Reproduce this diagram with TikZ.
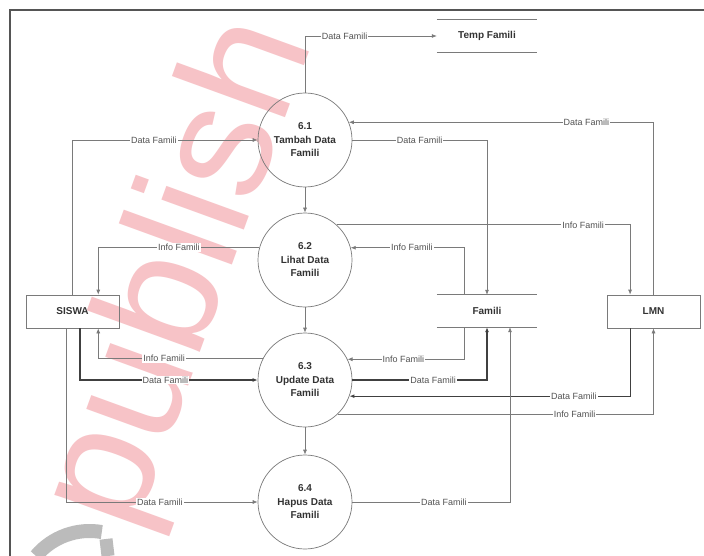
\documentclass[tikz,border=0pt]{standalone}
\usepackage{fontspec}
\setmainfont{Liberation Sans}
\usetikzlibrary{arrows.meta,calc}
\definecolor{ln}{HTML}{7A7A7A}
\definecolor{lnd}{HTML}{404040}
\definecolor{tx}{HTML}{333333}
\definecolor{wm}{HTML}{F7C3C7}
\definecolor{logo}{HTML}{BBBBBB}
\definecolor{frame}{HTML}{555555}
\begin{document}
\begin{tikzpicture}[x=1pt,y=-1pt,
  proc/.style={circle,draw=ln,line width=0.7pt,minimum size=94pt,inner sep=0pt,align=center,
    font=\fontsize{10}{13.5}\selectfont\bfseries,text=tx},
  ent/.style={rectangle,draw=ln,line width=0.7pt,minimum width=93pt,minimum height=33pt,inner sep=0pt,
    font=\fontsize{10}{12}\selectfont\bfseries,text=tx},
  store/.style={rectangle,minimum width=100pt,minimum height=32pt,inner sep=0pt,
    font=\fontsize{10}{12}\selectfont\bfseries,text=tx},
  flow/.style={draw=ln,line width=0.7pt,-{Latex[length=5pt,width=4pt]}},
  flowd/.style={flow,draw=lnd,line width=1.1pt},
  lbl/.style={fill=white,inner sep=1pt,font=\fontsize{9}{10}\selectfont,text=tx!85}]
\useasboundingbox (0,0) rectangle (704,556);
\clip (0,0) rectangle (704,556);
\fill[white] (0,0) rectangle (704,556);
% watermark
\node[anchor=base west,inner sep=0pt,rotate=70,text=wm,font=\fontsize{166}{166}\selectfont] (wmark) at (133.6,536) {publish};
\draw[line width=14pt,logo] (36,556) arc[start angle=-140,end angle=-80,radius=70];
\draw[line width=13pt,logo] (106,539) -- (108,556);
% frame
\draw[line width=2.5pt,frame] (10,10) rectangle (730,590);
% processes
\node[proc] (c1) at (305,140) {6.1\\Tambah Data\\Famili};
\node[proc] (c2) at (305,260) {6.2\\Lihat Data\\Famili};
\node[proc] (c3) at (305,380) {6.3\\Update Data\\Famili};
\node[proc] (c4) at (305,502) {6.4\\Hapus Data\\Famili};
% entities
\node[ent] (siswa) at (72.5,311.5) {SISWA};
\node[ent] (lmn) at (653.5,311.5) {LMN};
% stores
\node[store] (famili) at (487,311) {Famili};
\node[store] (temp) at (487,36) {Temp Famili};
\draw[ln,line width=0.7pt] (famili.north west) -- (famili.north east) (famili.south west) -- (famili.south east);
\draw[ln,line width=0.7pt] (temp.north west) -- (temp.north east) (temp.south west) -- (temp.south east);
% helper coordinates
\coordinate (fnl) at ($(famili.north)+(-23,0)$);
\coordinate (fsl) at ($(famili.south)+(-23,0)$);
\coordinate (fsr) at ($(famili.south)+(23,0)$);
\coordinate (lnl) at ($(lmn.north)!0.5!(lmn.north west)$);
\coordinate (lsl) at ($(lmn.south)!0.5!(lmn.south west)$);
\coordinate (snr) at ($(siswa.north)!0.55!(siswa.north east)$);
\coordinate (ssr) at ($(siswa.south)!0.55!(siswa.south east)$);
\coordinate (ssm) at ($(siswa.south)+(7.5,0)$);
\coordinate (ssl) at ($(siswa.south)+(-6.5,0)$);
% flows
\draw[flow] (c1.north) |- (temp.west) node[lbl,pos=0.65]{Data Famili};
\draw[flow] (siswa.north) |- (c1.west) node[lbl,pos=0.72]{Data Famili};
\draw[flow] (c1.east) -| (famili.north) node[lbl,pos=0.25]{Data Famili};
\draw[flow] (lmn.north) |- (c1.22) node[lbl,pos=0.61]{Data Famili};
\draw[flow] (c1.south) -- (c2.north);
\draw[flow] (c2.48) -| (lnl) node[lbl,pos=0.42]{Info Famili};
\draw[flow] (fnl) |- (c2.15) node[lbl,pos=0.73]{Info Famili};
\draw[flow] (c2.165) -| (snr) node[lbl,pos=0.25]{Info Famili};
\draw[flow] (c2.south) -- (c3.north);
\draw[flow] (c3.153) -| (ssr) node[lbl,pos=0.3]{Info Famili};
\draw[flowd] (ssm) |- (c3.west) node[lbl,pos=0.74]{Data Famili};
\draw[flow] (fsl) |- (c3.26) node[lbl,pos=0.76]{Info Famili};
\draw[flowd] (c3.east) -| (famili.south) node[lbl,pos=0.3]{Data Famili};
\draw[flowd] (lsl) |- (c3.-20) node[lbl,pos=0.6]{Data Famili};
\draw[flow] (c3.-46) -| (lmn.south) node[lbl,pos=0.375]{Info Famili};
\draw[flow] (c3.south) -- (c4.north);
\draw[flow] (ssl) |- (c4.west) node[lbl,pos=0.745]{Data Famili};
\draw[flow] (c4.east) -| (fsr) node[lbl,pos=0.29]{Data Famili};
\end{tikzpicture}
\end{document}
